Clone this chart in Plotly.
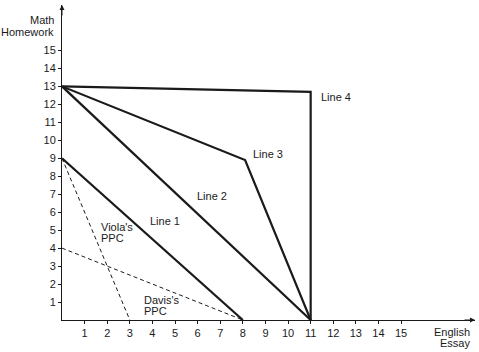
import plotly.graph_objects as go

# Data
line1_x = [0, 8]; line1_y = [9, 0]
line2_x = [0, 11]; line2_y = [13, 0]
line3_x = [0, 8.1, 11]; line3_y = [13, 8.9, 0]
line4_x = [0, 11, 11]; line4_y = [13, 12.7, 0]
viola_x = [0, 3]; viola_y = [9, 0]
davis_x = [0, 8]; davis_y = [4, 0]
ticks = list(range(1, 16))

labels = [
    ("Line 4", 11.35, 12.43),
    ("Line 3", 8.37, 9.25),
    ("Line 2", 5.9, 6.88),
    ("Line 1", 3.8, 5.49),
    ("Viola's", 1.63, 5.19),
    ("PPC", 1.63, 4.55),
    ("Davis's", 3.55, 1.11),
    ("PPC", 3.55, 0.50),
]
axis_titles = [
    ("Math", -0.0145, 0.952),
    ("Homework", -0.0145, 0.914),
    ("English", 0.993, -0.0381),
    ("Essay", 0.993, -0.0746),
]

C = "#1a1a1a"
fig = go.Figure()
for xs, ys in [(line1_x, line1_y), (line2_x, line2_y), (line3_x, line3_y), (line4_x, line4_y)]:
    fig.add_trace(go.Scatter(x=xs, y=ys, mode="lines", line=dict(color=C, width=2.2)))
for xs, ys in [(viola_x, viola_y), (davis_x, davis_y)]:
    fig.add_trace(go.Scatter(x=xs, y=ys, mode="lines", line=dict(color=C, width=1, dash="4px,3px")))

font = dict(family="Liberation Sans, Arial, sans-serif", size=11, color=C)
anns = []
for t, x, y in labels:
    anns.append(dict(text=t, x=x, y=y, xref="x", yref="y", xanchor="left", yanchor="middle",
                     showarrow=False, align="left", font=font))
for t, x, y in axis_titles:
    anns.append(dict(text=t, x=x, y=y, xref="paper", yref="paper", xanchor="right", yanchor="middle",
                     showarrow=False, align="right", font=font))
# axis arrows
anns.append(dict(x=0, y=1.0, xref="x domain", yref="y domain", ax=0, ay=12,
                 showarrow=True, arrowhead=2, arrowsize=1, arrowwidth=1, arrowcolor=C, text=""))
anns.append(dict(x=1.0, y=0, xref="x domain", yref="y domain", ax=-12, ay=0,
                 showarrow=True, arrowhead=2, arrowsize=1, arrowwidth=1, arrowcolor=C, text=""))

fig.update_layout(
    width=479, height=352, margin=dict(l=62, r=4, t=5, b=32),
    paper_bgcolor="white", plot_bgcolor="white", showlegend=False,
    annotations=anns, font=font,
    xaxis=dict(range=[0, 18.27], tickvals=ticks, ticks="outside", ticklen=3, tickcolor=C,
               showline=True, linecolor=C, linewidth=1, showgrid=False, zeroline=False,
               tickfont=font, fixedrange=True),
    yaxis=dict(range=[0, 17.53], tickvals=ticks, ticks="outside", ticklen=3, tickcolor=C,
               showline=True, linecolor=C, linewidth=1, showgrid=False, zeroline=False,
               tickfont=font, fixedrange=True),
)
fig.write_html("out.html")
